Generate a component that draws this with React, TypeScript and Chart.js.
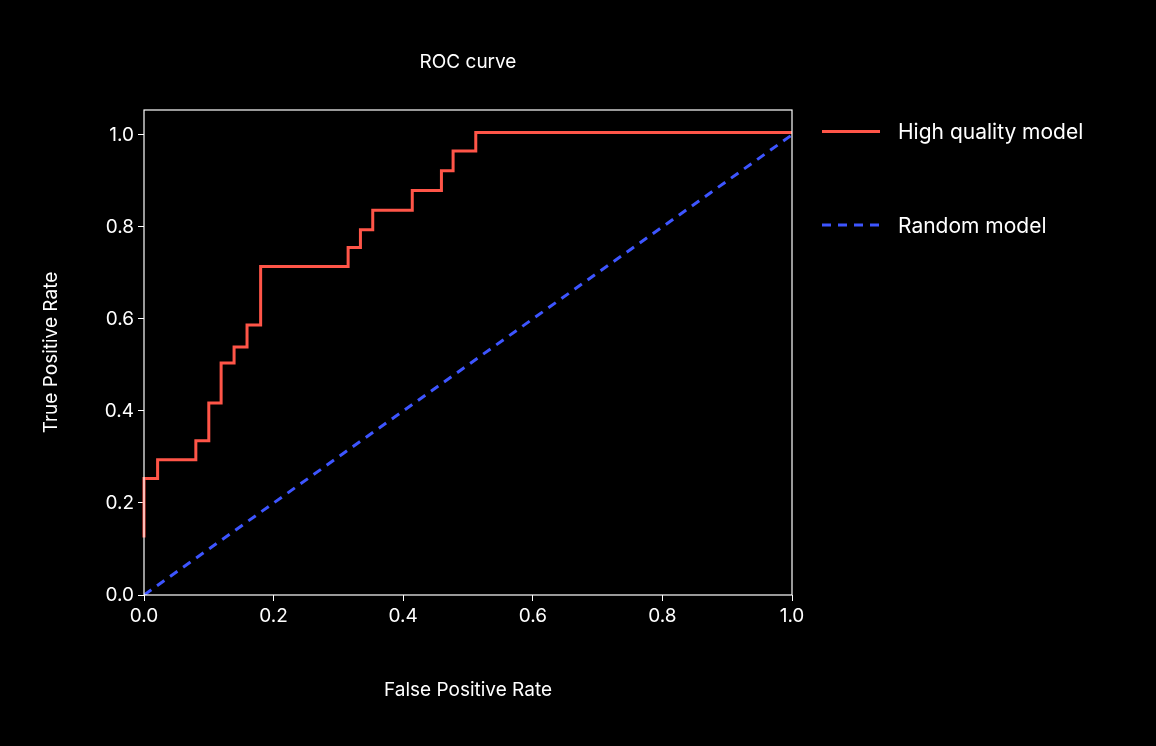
import React, { useEffect, useRef } from "react";
import { Chart, registerables } from "chart.js";
Chart.register(...registerables);

const fpr = [0, 0.021, 0.08, 0.1, 0.119, 0.139, 0.159, 0.18, 0.315, 0.334, 0.353, 0.414, 0.459, 0.477, 0.512, 0.576, 1.0];
const tpr = [0.125, 0.253, 0.294, 0.335, 0.417, 0.504, 0.539, 0.587, 0.714, 0.755, 0.794, 0.836, 0.879, 0.922, 0.965, 1.005, 1.005];
const randomX = [0, 1];
const randomY = [0, 1];
const tickValues = [0, 0.2, 0.4, 0.6, 0.8, 1.0];

const RED = "#ff5548";
const BLUE = "#3d55ff";
const FONT = "Inter, 'DejaVu Sans', sans-serif";

export default function App() {
  const ref = useRef<HTMLCanvasElement>(null);
  useEffect(() => {
    const frame = {
      id: "frame",
      afterDatasetsDraw(c: any) {
        const a = c.chartArea;
        const ctx = c.ctx;
        ctx.save();
        ctx.strokeStyle = "#ffffff";
        ctx.lineWidth = 1.2;
        ctx.strokeRect(a.left, a.top, a.right - a.left, a.bottom - a.top);
        ctx.restore();
      },
    };
    const tickCb = (v: any) => Number(v).toFixed(1);
    const fixTicks = (s: any) => { s.ticks = tickValues.map((v) => ({ value: v })); };
    const chart = new Chart(ref.current!, {
      type: "line",
      data: {
        datasets: [
          { label: "High quality model", data: fpr.map((x, i) => ({ x, y: tpr[i] })), borderColor: RED, borderWidth: 3, pointRadius: 0, stepped: "after" as any, clip: false as any },
          { label: "Random model", data: randomX.map((x, i) => ({ x, y: randomY[i] })), borderColor: BLUE, borderWidth: 3, borderDash: [9, 7], pointRadius: 0 },
        ],
      },
      options: {
        animation: false,
        responsive: false,
        layout: { padding: { left: 36, right: 364, top: 110, bottom: 40 } },
        plugins: { legend: { display: false }, tooltip: { enabled: false } },
        scales: {
          x: {
            type: "linear", min: 0, max: 1,
            afterBuildTicks: fixTicks,
            afterFit: (s: any) => { s.height = 111; },
            grid: { display: true, drawOnChartArea: false, drawTicks: true, tickLength: 6, color: "#ffffff" },
            border: { display: false },
            ticks: { color: "#ffffff", font: { family: FONT, size: 19 }, callback: tickCb, padding: 4 },
            title: { display: true, text: "False Positive Rate", color: "#ffffff", font: { family: FONT, size: 19 } },
          },
          y: {
            type: "linear", min: 0, max: 1.054,
            afterBuildTicks: fixTicks,
            afterFit: (s: any) => { s.width = 108; },
            grid: { display: true, drawOnChartArea: false, drawTicks: true, tickLength: 6, color: "#ffffff" },
            border: { display: false },
            ticks: { color: "#ffffff", font: { family: FONT, size: 19 }, callback: tickCb, padding: 4 },
            title: { display: true, text: "True Positive Rate", color: "#ffffff", font: { family: FONT, size: 19 } },
          },
        },
      },
      plugins: [frame],
    });
    return () => chart.destroy();
  }, []);
  const legendRow = (top: number, color: string, dashed: boolean, text: string) => (
    <div style={{ position: "absolute", left: 822, top: top - 14, height: 28, display: "flex", alignItems: "center" }}>
      {dashed ? (
        <svg width={58} height={6}><line x1={0} y1={3} x2={58} y2={3} stroke={color} strokeWidth={3} strokeDasharray="9 7" /></svg>
      ) : (
        <div style={{ width: 58, height: 3, background: color }} />
      )}
      <span style={{ marginLeft: 18, color: "#fff", fontFamily: FONT, fontSize: 21 }}>{text}</span>
    </div>
  );
  return (
    <div style={{ position: "fixed", left: 0, top: 0, width: 1156, height: 746, background: "#000" }}>
      <canvas ref={ref} width={1156} height={746} style={{ position: "absolute", left: 0, top: 0 }} />
      <div style={{ position: "absolute", left: 144, width: 648, top: 50, textAlign: "center", color: "#fff", fontFamily: FONT, fontSize: 19 }}>ROC curve</div>
      {legendRow(131, RED, false, "High quality model")}
      {legendRow(225, BLUE, true, "Random model")}
    </div>
  );
}
